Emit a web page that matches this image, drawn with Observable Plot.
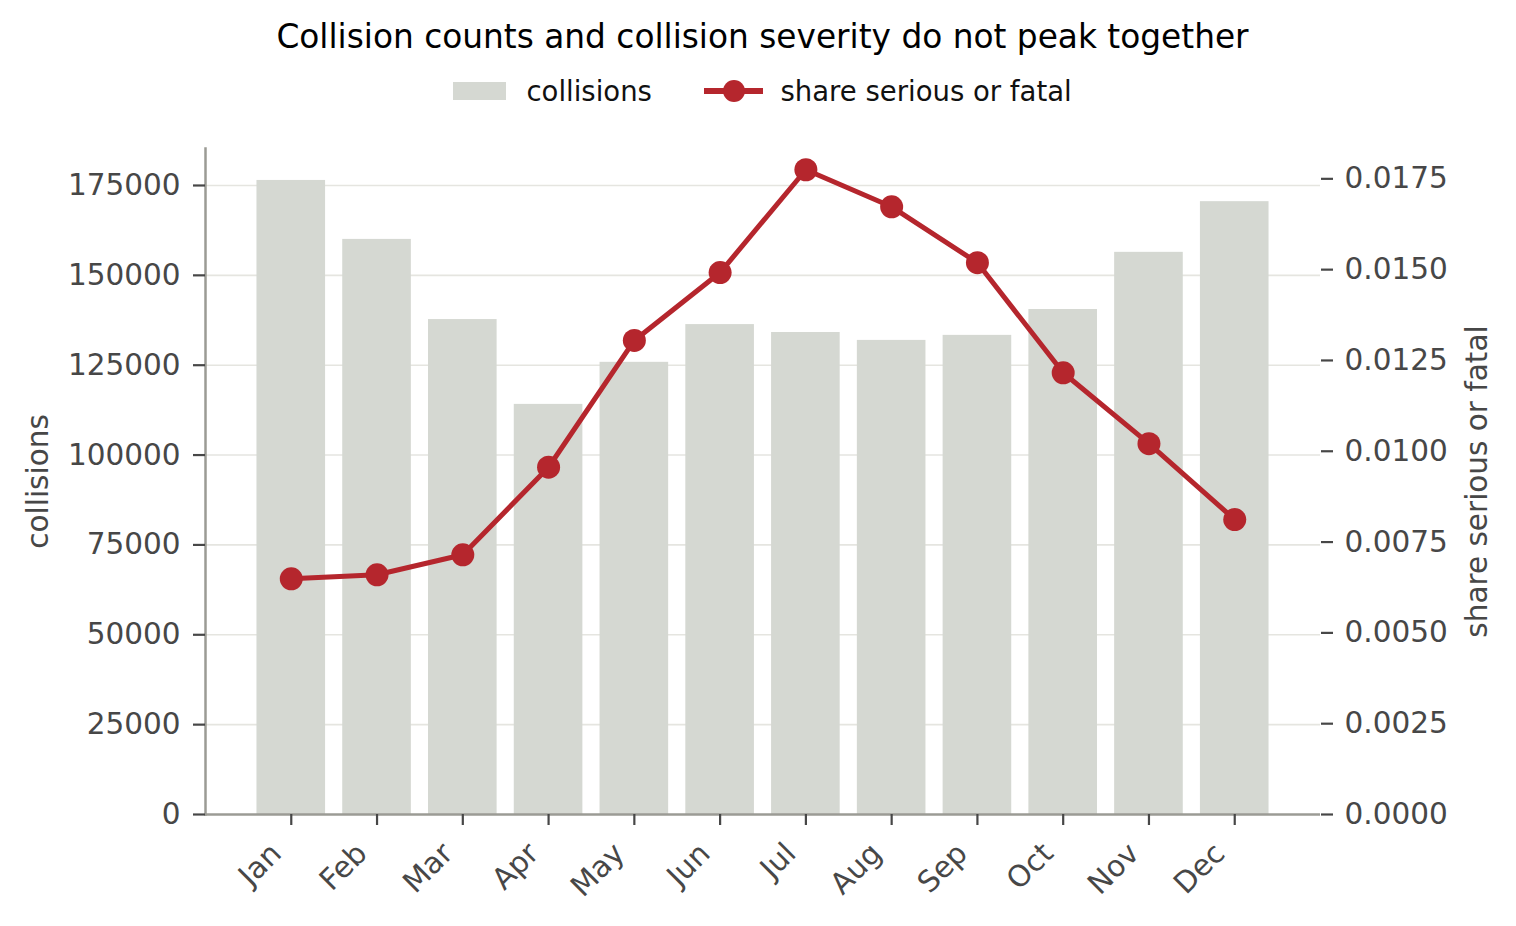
<!DOCTYPE html>
<html>
<head>
<meta charset="utf-8">
<script src="https://cdn.jsdelivr.net/npm/d3@7"></script>
<script src="https://cdn.jsdelivr.net/npm/@observablehq/plot@0.6"></script>
<style>
  body { margin: 0; background: #fff; font-family: "DejaVu Sans", sans-serif; }
  #wrap { position: relative; width: 1516px; height: 926px; overflow: hidden; }
  #head { position: relative; width: 1516px; height: 120px; }
  #title { position: absolute; left: 0; top: 18px; width: 1525px; text-align: center;
           font-size: 32.8px; line-height: normal; color: #000; white-space: nowrap; }
  .lg { position: absolute; font-size: 27.5px; line-height: normal; color: #111; white-space: nowrap; top: 75px; }
  #swatch { position: absolute; left: 453px; top: 82px; width: 53px; height: 18px; background: #d5d8d2; }
  #lineKey { position: absolute; left: 704px; top: 80px; }
  #chart svg { display: block; }
</style>
</head>
<body>
<div id="wrap">
  <div id="head">
    <div id="title">Collision counts and collision severity do not peak together</div>
    <div id="swatch"></div>
    <div class="lg" style="left:526.5px">collisions</div>
    <svg id="lineKey" width="60" height="22">
      <line x1="0" x2="59" y1="11" y2="11" stroke="#b5262d" stroke-width="6"></line>
      <circle cx="30" cy="11" r="11" fill="#b5262d"></circle>
    </svg>
    <div class="lg" style="left:780.5px">share serious or fatal</div>
  </div>
  <div id="chart"></div>
</div>
<script>
const months = ["Jan", "Feb", "Mar", "Apr", "May", "Jun", "Jul", "Aug", "Sep", "Oct", "Nov", "Dec"];
const collisions = [176400, 160000, 137700, 114100, 125800, 136300, 134100, 131900, 133300, 140500, 156400, 170500];
const shareSeriousFatal = [0.00649, 0.00660, 0.00715, 0.00956, 0.01305, 0.01492, 0.01775, 0.01673, 0.01519, 0.01216, 0.01021, 0.00812];
const leftTicks = [0, 25000, 50000, 75000, 100000, 125000, 150000, 175000];
const rightTicks = [0, 0.0025, 0.005, 0.0075, 0.01, 0.0125, 0.015, 0.0175];

const leftMax = 185290;
const rightMax = 0.018335;
const k = leftMax / rightMax;

const rows = months.map((m, i) => ({ month: m, collisions: collisions[i], share: shareSeriousFatal[i] }));

const textColor = "#474747";
const spine = "#9b9b95";
const red = "#b5262d";

const chart = Plot.plot({
  width: 1516,
  height: 806,
  marginTop: 28,
  marginBottom: 112,
  marginLeft: 205,
  marginRight: 196,
  style: { fontFamily: "DejaVu Sans", background: "white", overflow: "visible" },
  x: { type: "band", domain: months, paddingInner: 0.2, paddingOuter: 0.6, align: 0.5, round: false },
  y: { domain: [0, leftMax] },
  marks: [
    Plot.gridY(leftTicks.slice(1), { stroke: "#e5e5e0", strokeOpacity: 1, strokeWidth: 1.6 }),
    Plot.barY(rows, { x: "month", y: "collisions", fill: "#d5d8d2" }),
    Plot.line(rows, { x: "month", y: d => d.share * k, stroke: red, strokeWidth: 5 }),
    Plot.dot(rows, { x: "month", y: d => d.share * k, r: 11.5, fill: red }),
    Plot.ruleY([0], { stroke: spine, strokeWidth: 2.5 }),
    Plot.frame({ anchor: "left", stroke: spine, strokeWidth: 2.5 }),
    Plot.axisY(leftTicks, {
      anchor: "left", tickSize: 12, tickPadding: 13, tickFormat: d3.format("d"),
      fontSize: 29.5, color: textColor, strokeWidth: 2.2, label: "collisions", labelAnchor: "center",
      labelArrow: "none", labelOffset: 178
    }),
    Plot.axisY(rightTicks.map(v => v * k), {
      anchor: "right", tickSize: 12, tickPadding: 12, tickFormat: d => (d / k).toFixed(4),
      fontSize: 29.5, color: textColor, strokeWidth: 2.2, label: "share serious or fatal", labelAnchor: "center",
      labelArrow: "none", labelOffset: 166
    }),
    Plot.axisX({ tickSize: 11, stroke: textColor, fill: "none", strokeWidth: 2.2, label: null }),
    Plot.axisX({
      tickRotate: -45, tickSize: 0, tickPadding: 19, dx: -15, dy: 15,
      fontSize: 29.5, fill: textColor, label: null
    })
  ]
});
document.getElementById("chart").appendChild(chart);
</script>
</body>
</html>
